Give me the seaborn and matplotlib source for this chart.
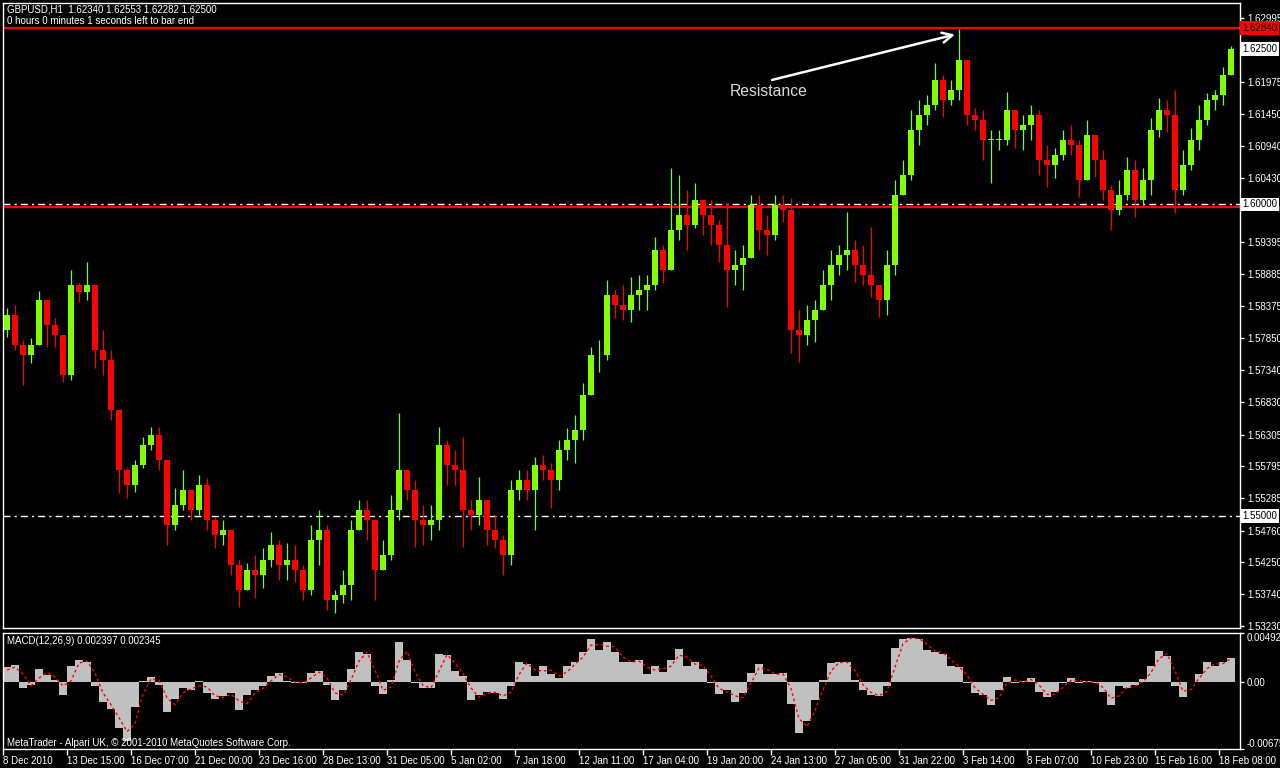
import numpy as np
import pandas as pd
import matplotlib
matplotlib.use("Agg")
import matplotlib.pyplot as plt
import matplotlib.transforms as mtransforms
from matplotlib.patches import Rectangle
import seaborn as sns

# GBPUSD H1; one candle here = 8 hourly bars
BARS_PER_CANDLE = 8
first_open = 1.5798

close_prices = [
    1.5822, 1.5774, 1.5758, 1.5774, 1.5847, 1.5806, 1.5790, 1.5726, 1.5871, 1.5859,
    1.5871, 1.5766, 1.5750, 1.5670, 1.5574, 1.5549, 1.5582, 1.5614, 1.5630, 1.5590,
    1.5485, 1.5517, 1.5541, 1.5509, 1.5549, 1.5493, 1.5469, 1.5477, 1.5421, 1.5381,
    1.5413, 1.5405, 1.5429, 1.5453, 1.5421, 1.5429, 1.5413, 1.5381, 1.5461, 1.5477,
    1.5365, 1.5373, 1.5389, 1.5477, 1.5509, 1.5493, 1.5413, 1.5437, 1.5509, 1.5574,
    1.5541, 1.5493, 1.5485, 1.5493, 1.5614, 1.5582, 1.5574, 1.5509, 1.5501, 1.5525,
    1.5477, 1.5461, 1.5437, 1.5541, 1.5558, 1.5541, 1.5582, 1.5574, 1.5558, 1.5606,
    1.5622, 1.5638, 1.5694, 1.5758, 1.5758, 1.5855, 1.5839, 1.5831, 1.5855, 1.5863,
    1.5871, 1.5927, 1.5895, 1.5959, 1.5983, 1.5967, 1.6007, 1.5983, 1.5967, 1.5935,
    1.5895, 1.5903, 1.5914, 1.5999, 1.5959, 1.5951, 1.5999, 1.5991, 1.5798, 1.5790,
    1.5814, 1.5831, 1.5871, 1.5903, 1.5919, 1.5927, 1.5903, 1.5887, 1.5871, 1.5847,
    1.5903, 1.6015, 1.6047, 1.6120, 1.6144, 1.6160, 1.6200, 1.6168, 1.6184, 1.6232,
    1.6144, 1.6136, 1.6104, 1.6104, 1.6104, 1.6152, 1.6120, 1.6128, 1.6144, 1.6072,
    1.6063, 1.6080, 1.6104, 1.6096, 1.6039, 1.6112, 1.6072, 1.6023, 1.5991, 1.6015,
    1.6055, 1.6007, 1.6039, 1.6120, 1.6152, 1.6144, 1.6023, 1.6063, 1.6104, 1.6136,
    1.6168, 1.6176, 1.6208, 1.6250,
]
high_prices = [
    1.5833, 1.5839, 1.5782, 1.5785, 1.5861, 1.5822, 1.5817, 1.5782, 1.5895, 1.5874,
    1.5907, 1.5871, 1.5798, 1.5766, 1.5670, 1.5577, 1.5590, 1.5626, 1.5643, 1.5643,
    1.5582, 1.5545, 1.5574, 1.5533, 1.5566, 1.5561, 1.5498, 1.5493, 1.5477, 1.5429,
    1.5424, 1.5437, 1.5448, 1.5474, 1.5461, 1.5456, 1.5453, 1.5421, 1.5485, 1.5509,
    1.5485, 1.5381, 1.5413, 1.5493, 1.5525, 1.5525, 1.5493, 1.5461, 1.5533, 1.5665,
    1.5574, 1.5558, 1.5517, 1.5517, 1.5643, 1.5622, 1.5606, 1.5626, 1.5525, 1.5562,
    1.5517, 1.5501, 1.5469, 1.5558, 1.5574, 1.5574, 1.5595, 1.5598, 1.5585, 1.5622,
    1.5641, 1.5662, 1.5713, 1.5771, 1.5782, 1.5879, 1.5863, 1.5871, 1.5884, 1.5887,
    1.5887, 1.5948, 1.5935, 1.6058, 1.6047, 1.6023, 1.6034, 1.6007, 1.6007, 1.5975,
    1.6002, 1.5927, 1.5935, 1.6015, 1.6015, 1.5983, 1.6015, 1.6015, 1.6010, 1.5831,
    1.5839, 1.5847, 1.5895, 1.5927, 1.5935, 1.5988, 1.5943, 1.5935, 1.5964, 1.5871,
    1.5927, 1.6039, 1.6072, 1.6152, 1.6168, 1.6176, 1.6227, 1.6208, 1.6200, 1.6282,
    1.6232, 1.6155, 1.6152, 1.6120, 1.6120, 1.6181, 1.6152, 1.6144, 1.6160, 1.6152,
    1.6096, 1.6091, 1.6120, 1.6128, 1.6104, 1.6136, 1.6112, 1.6088, 1.6031, 1.6039,
    1.6076, 1.6072, 1.6058, 1.6139, 1.6171, 1.6168, 1.6184, 1.6088, 1.6123, 1.6160,
    1.6179, 1.6184, 1.6221, 1.6255,
]
low_prices = [
    1.5787, 1.5766, 1.5710, 1.5745, 1.5790, 1.5771, 1.5771, 1.5715, 1.5718, 1.5843,
    1.5847, 1.5737, 1.5726, 1.5654, 1.5536, 1.5528, 1.5538, 1.5577, 1.5606, 1.5574,
    1.5453, 1.5477, 1.5509, 1.5493, 1.5501, 1.5477, 1.5448, 1.5453, 1.5405, 1.5353,
    1.5381, 1.5368, 1.5384, 1.5418, 1.5397, 1.5397, 1.5394, 1.5365, 1.5373, 1.5421,
    1.5349, 1.5344, 1.5360, 1.5365, 1.5477, 1.5461, 1.5365, 1.5413, 1.5429, 1.5493,
    1.5525, 1.5450, 1.5453, 1.5461, 1.5477, 1.5549, 1.5549, 1.5450, 1.5477, 1.5485,
    1.5453, 1.5448, 1.5405, 1.5421, 1.5525, 1.5525, 1.5477, 1.5558, 1.5512, 1.5541,
    1.5590, 1.5585, 1.5622, 1.5702, 1.5731, 1.5750, 1.5817, 1.5814, 1.5811, 1.5831,
    1.5831, 1.5863, 1.5874, 1.5907, 1.5943, 1.5927, 1.5962, 1.5951, 1.5935, 1.5907,
    1.5835, 1.5871, 1.5863, 1.5914, 1.5927, 1.5919, 1.5943, 1.5972, 1.5761, 1.5747,
    1.5774, 1.5779, 1.5831, 1.5847, 1.5887, 1.5895, 1.5875, 1.5871, 1.5851, 1.5819,
    1.5822, 1.5887, 1.6015, 1.6039, 1.6096, 1.6128, 1.6152, 1.6140, 1.6160, 1.6168,
    1.6128, 1.6120, 1.6072, 1.6034, 1.6088, 1.6096, 1.6091, 1.6088, 1.6104, 1.6047,
    1.6028, 1.6042, 1.6072, 1.6080, 1.6012, 1.6039, 1.6044, 1.6007, 1.5959, 1.5983,
    1.6007, 1.5980, 1.5999, 1.6015, 1.6108, 1.6116, 1.5986, 1.6015, 1.6055, 1.6088,
    1.6128, 1.6152, 1.6160, 1.6208,
]

macd_main = [
    0.00146, 0.00174, -0.00063, -0.00035, 0.00129, 0.00066, 0.00024, -0.00132, 0.00164, 0.00216,
    0.00205, -0.00045, -0.00202, -0.00271, -0.00463, -0.00590, -0.00254, 0.00007, 0.00052, -0.00028,
    -0.00306, -0.00167, -0.00063, -0.00080, 0.00007, -0.00115, -0.00167, -0.00143, -0.00108, -0.00282,
    -0.00132, -0.00080, -0.00045, 0.00059, 0.00087, 0.00007, -0.00010, -0.00010, 0.00094, 0.00111,
    -0.00028, -0.00184, -0.00080, 0.00129, 0.00303, 0.00285, -0.00045, -0.00122, 0.00024, 0.00400,
    0.00216, -0.00010, -0.00063, -0.00056, 0.00285, 0.00268, 0.00111, 0.00059, -0.00177, -0.00132,
    -0.00097, -0.00115, -0.00167, -0.00045, 0.00198, 0.00181, 0.00059, 0.00164, 0.00077, 0.00042,
    0.00164, 0.00198, 0.00303, 0.00435, 0.00320, 0.00407, 0.00303, 0.00198, 0.00205, 0.00216,
    0.00077, 0.00164, 0.00101, 0.00216, 0.00331, 0.00164, 0.00198, 0.00129, -0.00010, -0.00122,
    -0.00080, -0.00202, -0.00115, 0.00094, 0.00181, 0.00077, 0.00077, 0.00087, -0.00219, -0.00515,
    -0.00393, -0.00184, 0.00024, 0.00191, 0.00198, 0.00205, 0.00024, -0.00080, -0.00132, -0.00143,
    -0.00045, 0.00338, 0.00435, 0.00442, 0.00435, 0.00320, 0.00303, 0.00285, 0.00164, 0.00146,
    -0.00010, -0.00115, -0.00132, -0.00237, -0.00080, 0.00052, -0.00010, 0.00007, 0.00042, -0.00097,
    -0.00150, -0.00097, -0.00010, 0.00042, -0.00010, 0.00007, -0.00010, -0.00097, -0.00237, -0.00045,
    -0.00063, -0.00028, 0.00031, 0.00164, 0.00310, 0.00261, -0.00045, -0.00150, -0.00003, 0.00077,
    0.00198, 0.00164, 0.00205, 0.00240,
]
macd_signal = [
    0.00120, 0.00150, 0.00080, -0.00040, 0.00040, 0.00095, 0.00050, -0.00040, 0.00010, 0.00190,
    0.00210, 0.00090, -0.00110, -0.00230, -0.00360, -0.00500, -0.00420, -0.00120, 0.00030, 0.00015,
    -0.00160, -0.00230, -0.00110, -0.00070, -0.00040, -0.00050, -0.00140, -0.00155, -0.00125, -0.00190,
    -0.00220, -0.00110, -0.00065, 0.00010, 0.00075, 0.00050, 0.00000, -0.00010, 0.00040, 0.00100,
    0.00040, -0.00110, -0.00130, 0.00020, 0.00210, 0.00300, 0.00120, -0.00085, -0.00050, 0.00210,
    0.00310, 0.00100, -0.00035, -0.00060, 0.00110, 0.00275, 0.00190, 0.00085, -0.00060, -0.00155,
    -0.00115, -0.00105, -0.00140, -0.00105, 0.00075, 0.00190, 0.00120, 0.00110, 0.00120, 0.00060,
    0.00100, 0.00180, 0.00250, 0.00370, 0.00380, 0.00360, 0.00355, 0.00250, 0.00200, 0.00210,
    0.00150, 0.00120, 0.00130, 0.00160, 0.00270, 0.00250, 0.00180, 0.00165, 0.00060, -0.00065,
    -0.00100, -0.00140, -0.00160, -0.00010, 0.00140, 0.00130, 0.00077, 0.00082, -0.00065, -0.00370,
    -0.00450, -0.00290, -0.00080, 0.00110, 0.00195, 0.00200, 0.00115, -0.00030, -0.00105, -0.00138,
    -0.00095, 0.00150, 0.00385, 0.00440, 0.00438, 0.00380, 0.00310, 0.00295, 0.00225, 0.00155,
    0.00070, -0.00060, -0.00125, -0.00185, -0.00160, -0.00015, 0.00020, 0.00000, 0.00025, -0.00030,
    -0.00125, -0.00125, -0.00055, 0.00015, 0.00015, 0.00000, 0.00000, -0.00055, -0.00165, -0.00140,
    -0.00055, -0.00045, 0.00000, 0.00095, 0.00235, 0.00285, 0.00110, -0.00095, -0.00075, 0.00035,
    0.00135, 0.00180, 0.00185, 0.00235,
]

time_labels = [
    "8 Dec 2010", "13 Dec 15:00", "16 Dec 07:00", "21 Dec 00:00", "23 Dec 16:00",
    "28 Dec 13:00", "31 Dec 05:00", "5 Jan 02:00", "7 Jan 18:00", "12 Jan 11:00",
    "17 Jan 04:00", "19 Jan 20:00", "24 Jan 13:00", "27 Jan 05:00", "31 Jan 22:00",
    "3 Feb 14:00", "8 Feb 07:00", "10 Feb 23:00", "15 Feb 16:00", "18 Feb 08:00",
]
label_every_bars = 64
price_ticks = [1.62995, 1.61975, 1.61450, 1.60940, 1.60430, 1.59395, 1.58885,
               1.58375, 1.57850, 1.57340, 1.56830, 1.56305, 1.55795, 1.55285,
               1.54760, 1.54250, 1.53740, 1.53230]
macd_ticks = [0.004927, 0.0, -0.00675]
macd_tick_labels = ["0.004927", "0.00", "-0.00675"]

resistance_level = 1.62840
support_red = 1.59955
support_level = 1.60000
lower_level = 1.55000
last_price = 1.62500

GREEN = "#7FFF00"
RED = "#FF0000"
FS = 7.0

df = pd.DataFrame({"close": close_prices, "high": high_prices, "low": low_prices})
df["open"] = [first_open] + close_prices[:-1]
df["t"] = df.index * BARS_PER_CANDLE + BARS_PER_CANDLE / 2
df["high"] = df[["high", "open", "close"]].max(axis=1)
df["low"] = df[["low", "open", "close"]].min(axis=1)
df["up"] = df["close"] >= df["open"]
df["macd"] = macd_main
df["signal"] = macd_signal

sns.set_style("dark", {"axes.facecolor": "black", "figure.facecolor": "black",
                       "axes.edgecolor": "white", "text.color": "white",
                       "xtick.color": "white", "ytick.color": "white"})
plt.rcParams["font.family"] = ["Liberation Sans", "DejaVu Sans"]

W, H = 1280, 768
fig = plt.figure(figsize=(12.8, 7.68), dpi=100, facecolor="black")


def box(left, top, right, bottom):
    return [left / W, 1 - bottom / H, (right - left) / W, (bottom - top) / H]


ax = fig.add_axes(box(3, 3, 1240, 628))
axm = fig.add_axes(box(3, 633, 1240, 749))
for a in (ax, axm):
    a.set_facecolor("black")
    a.grid(False)
    for s in a.spines.values():
        s.set_visible(True)
        s.set_color("white")
        s.set_linewidth(1)
    a.set_xlim(0, 1237)

# candles
colors = np.where(df["up"], GREEN, RED)
ax.vlines(df["t"], df["low"], df["high"], colors=colors, linewidth=0.9, zorder=3)
body = (df["close"] - df["open"]).abs().clip(lower=0.00005)
ax.bar(df["t"], body, bottom=df[["open", "close"]].min(axis=1), width=6,
       color=colors, linewidth=0, zorder=3)

# levels
dashdot = (0, (5, 3, 1.5, 3))
ax.axhline(resistance_level, color=RED, linewidth=1.6, zorder=2)
ax.axhline(support_red, color=RED, linewidth=1.6, zorder=2)
ax.axhline(support_level, color="white", linewidth=1, linestyle=dashdot, zorder=2)
ax.axhline(lower_level, color="white", linewidth=1, linestyle=dashdot, zorder=2)

ax.annotate("", xy=(952, 1.6273), xytext=(769, 1.6200),
            arrowprops=dict(arrowstyle="->", color="white", lw=1.8,
                            mutation_scale=18, shrinkA=0, shrinkB=0), zorder=5)
ax.text(727, 1.6181, "Resistance", color="#D9D9D9", fontsize=11.3,
        ha="left", va="center", zorder=5)

ax.set_ylim(1.53198, 1.63236)
ax.set_xticks([])
ax.yaxis.tick_right()
ax.set_yticks(price_ticks)
ax.set_yticklabels([f"{v:.5f}" for v in price_ticks])
ax.tick_params(axis="y", right=True, left=False, length=3, width=1,
               colors="white", labelsize=FS, pad=2, direction="out")

trans = mtransforms.blended_transform_factory(ax.transAxes, ax.transData)
# red strip of the 1.5995 line peeking out under the 1.60000 box
ax.add_patch(Rectangle((1.0008, support_red - 0.00028), 0.04, 0.00042,
                       transform=trans, clip_on=False, color=RED, zorder=5))
for level, face in [(resistance_level, RED), (support_level, "white"),
                    (last_price, "white"), (lower_level, "white")]:
    ax.text(1.0016, level, f"{level:.5f}", transform=trans, fontsize=FS,
            color="black", ha="left", va="center", clip_on=False, zorder=6,
            bbox=dict(boxstyle="square,pad=0.2", fc=face, ec="none"))

# MACD panel
axm.bar(df["t"], df["macd"], width=BARS_PER_CANDLE, color="#C0C0C0",
        linewidth=0, zorder=2)
sns.lineplot(data=df, x="t", y="signal", ax=axm, color=RED, linewidth=1,
             linestyle=(0, (2, 2)), zorder=3)
axm.set_ylim(-0.00675, 0.004927)
axm.set_xlabel("")
axm.set_ylabel("")
axm.yaxis.tick_right()
axm.set_yticks(macd_ticks)
axm.set_yticklabels(macd_tick_labels)
yl = axm.get_yticklabels()
yl[0].set_va("top")
yl[2].set_va("bottom")
axm.tick_params(axis="y", right=True, left=False, length=3, width=1,
                colors="white", labelsize=FS, pad=2, direction="out")

axm.set_xticks(np.arange(len(time_labels)) * label_every_bars)
axm.set_xticklabels(time_labels)
for lab in axm.get_xticklabels():
    lab.set_ha("left")
axm.tick_params(axis="x", bottom=True, length=4, width=1, colors="white",
                labelsize=FS, pad=1, direction="out")
axm.set_xlim(0, 1237)


# header texts
def px(x, y):
    return x / W, 1 - y / H


fig.text(*px(7, 10), "GBPUSD,H1  1.62340 1.62553 1.62282 1.62500",
         fontsize=FS, color="white", va="center")
fig.text(*px(7, 21), "0 hours 0 minutes 1 seconds left to bar end",
         fontsize=FS, color="white", va="center")
fig.text(*px(7, 641), "MACD(12,26,9) 0.002397 0.002345",
         fontsize=FS, color="white", va="center")
fig.text(*px(7, 743), "MetaTrader - Alpari UK, \u00a9 2001-2010 MetaQuotes Software Corp.",
         fontsize=FS, color="white", va="center")

fig.savefig("out.png", dpi=100, facecolor="black")
